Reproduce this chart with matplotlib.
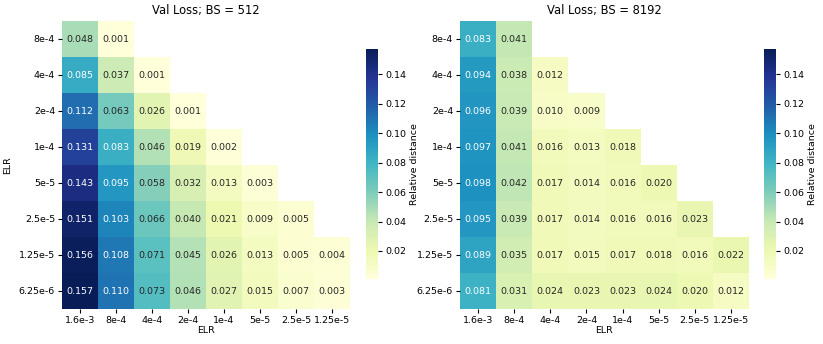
import numpy as np
import matplotlib
matplotlib.use("Agg")
import matplotlib.pyplot as plt
import seaborn as sns

elr_cols = ["1.6e-3", "8e-4", "4e-4", "2e-4", "1e-4", "5e-5", "2.5e-5", "1.25e-5"]
elr_rows = ["8e-4", "4e-4", "2e-4", "1e-4", "5e-5", "2.5e-5", "1.25e-5", "6.25e-6"]

nan = np.nan
bs512 = [
    [0.048, 0.001, nan, nan, nan, nan, nan, nan],
    [0.085, 0.037, 0.001, nan, nan, nan, nan, nan],
    [0.112, 0.063, 0.026, 0.001, nan, nan, nan, nan],
    [0.131, 0.083, 0.046, 0.019, 0.002, nan, nan, nan],
    [0.143, 0.095, 0.058, 0.032, 0.013, 0.003, nan, nan],
    [0.151, 0.103, 0.066, 0.040, 0.021, 0.009, 0.005, nan],
    [0.156, 0.108, 0.071, 0.045, 0.026, 0.013, 0.005, 0.004],
    [0.157, 0.110, 0.073, 0.046, 0.027, 0.015, 0.007, 0.003],
]
bs8192 = [
    [0.083, 0.041, nan, nan, nan, nan, nan, nan],
    [0.094, 0.038, 0.012, nan, nan, nan, nan, nan],
    [0.096, 0.039, 0.010, 0.009, nan, nan, nan, nan],
    [0.097, 0.041, 0.016, 0.013, 0.018, nan, nan, nan],
    [0.098, 0.042, 0.017, 0.014, 0.016, 0.020, nan, nan],
    [0.095, 0.039, 0.017, 0.014, 0.016, 0.016, 0.023, nan],
    [0.089, 0.035, 0.017, 0.015, 0.017, 0.018, 0.016, 0.022],
    [0.081, 0.031, 0.024, 0.023, 0.023, 0.024, 0.020, 0.012],
]
titles = ["Val Loss; BS = 512", "Val Loss; BS = 8192"]

W, H = 823, 344
fig = plt.figure(figsize=(W / 100, H / 100), dpi=100)
data = [np.array(bs512), np.array(bs8192)]
vmin = min(np.nanmin(d) for d in data)
vmax = max(np.nanmax(d) for d in data)

# pixel boxes: (left, top, width, height)
heat_boxes = [(62, 21, 288, 288), (460, 21, 289, 288)]
cbar_boxes = [(366, 49, 12, 230), (764, 49, 12, 230)]
fs = 6.8


def box(b):
    l, t, w, h = b
    return [l / W, 1 - (t + h) / H, w / W, h / H]


for i, (d, title) in enumerate(zip(data, titles)):
    ax = fig.add_axes(box(heat_boxes[i]))
    cax = fig.add_axes(box(cbar_boxes[i]))
    sns.heatmap(d, mask=np.isnan(d), ax=ax, cbar_ax=cax, cmap="YlGnBu",
                vmin=vmin, vmax=vmax, annot=True, fmt=".3f",
                annot_kws={"fontsize": fs},
                xticklabels=elr_cols, yticklabels=elr_rows,
                cbar_kws={"label": "Relative distance"})
    ax.set_title(title, fontsize=8.3, pad=5)
    ax.set_xlabel("ELR", fontsize=fs, labelpad=1)
    if i == 0:
        ax.set_ylabel("ELR", fontsize=fs, labelpad=5)
    ax.tick_params(labelsize=fs, length=3, pad=2)
    ax.set_yticklabels(elr_rows, rotation=0)
    ax.set_xticklabels(elr_cols, rotation=0)
    cax.tick_params(labelsize=fs, length=3, pad=2)
    cax.set_ylabel("Relative distance", fontsize=fs, labelpad=3)
    cax.set_yticks([0.02, 0.04, 0.06, 0.08, 0.10, 0.12, 0.14])

fig.savefig("out.png", dpi=100)
